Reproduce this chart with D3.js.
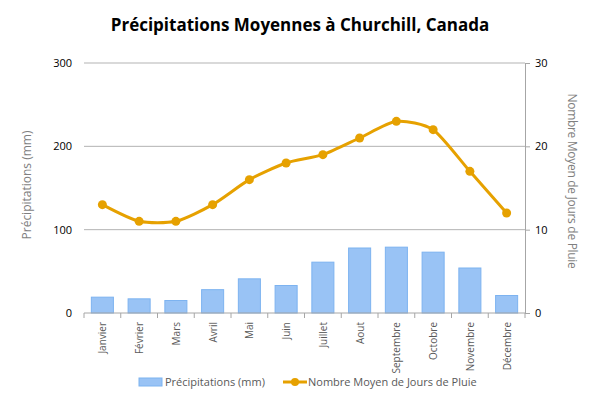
<!DOCTYPE html>
<html>
<head>
<meta charset="utf-8">
<script src="https://cdn.jsdelivr.net/npm/d3@7"></script>
<style>
  body { margin: 0; background: #fff; }
  svg { font-family: "Open Sans", "Noto Sans", sans-serif; }
</style>
</head>
<body>
<div id="chart"></div>
<script>
// Data
const months = ["Janvier", "Février", "Mars", "Avril", "Mai", "Juin",
  "Juillet", "Aout", "Septembre", "Octobre", "Novembre", "Décembre"];
const precip = [19, 17, 15, 28, 41, 33, 61, 78, 79, 73, 54, 21];
const rainDays = [13, 11, 11, 13, 16, 18, 19, 21, 23, 22, 17, 12];
const leftTicks = [0, 100, 200, 300];
const rightTicks = [0, 10, 20, 30];

const margin = { top: 63, right: 75, bottom: 86, left: 84 };
const width = 600 - margin.left - margin.right;
const height = 399 - margin.top - margin.bottom;

const svg = d3.select("#chart")
  .append("svg")
  .attr("width", 600)
  .attr("height", 399);

const g = svg.append("g")
  .attr("transform", `translate(${margin.left},${margin.top})`);

// Scales
const x = d3.scaleBand()
  .domain(months)
  .range([0, width])
  .paddingInner(0.4)
  .paddingOuter(0.2);

const yLeft = d3.scaleLinear().domain([0, 300]).range([height, 0]);
const yRight = d3.scaleLinear().domain([0, 30]).range([height, 0]);

// Title
svg.append("text")
  .attr("x", 300)
  .attr("y", 31)
  .attr("text-anchor", "middle")
  .style("font-size", "17px")
  .style("font-weight", "bold")
  .text("Précipitations Moyennes à Churchill, Canada");

// Gridlines
g.selectAll(".grid")
  .data(leftTicks.filter(d => d > 0))
  .enter()
  .append("line")
  .attr("x1", 0)
  .attr("x2", width)
  .attr("y1", d => yLeft(d))
  .attr("y2", d => yLeft(d))
  .attr("stroke", "#b3b3b3")
  .attr("stroke-width", 1);

// Left axis (no domain line)
const leftAxis = g.append("g")
  .call(d3.axisLeft(yLeft).tickValues(leftTicks).tickSize(0).tickPadding(12));
leftAxis.select(".domain").remove();
leftAxis.selectAll("text")
  .style("font-size", "11px")
  .style("font-family", "Open Sans, sans-serif")
  .attr("fill", "#000");

// Right axis
const rightAxis = g.append("g")
  .attr("transform", `translate(${width},0)`)
  .call(d3.axisRight(yRight).tickValues(rightTicks).tickSize(5).tickSizeOuter(0).tickPadding(5));
rightAxis.select(".domain").attr("stroke", "#a6a6a6");
rightAxis.selectAll(".tick line").attr("stroke", "#a6a6a6");
rightAxis.selectAll("text")
  .style("font-size", "11px")
  .style("font-family", "Open Sans, sans-serif")
  .attr("fill", "#000");

// Bars
g.selectAll(".bar")
  .data(months)
  .enter()
  .append("rect")
  .attr("x", d => x(d))
  .attr("y", (d, i) => yLeft(precip[i]))
  .attr("width", x.bandwidth())
  .attr("height", (d, i) => height - yLeft(precip[i]))
  .attr("fill", "#99c3f5")
  .attr("stroke", "#7db3f0")
  .attr("stroke-width", 1);

// Bottom axis
const step = x.step();
const bottom = g.append("g").attr("transform", `translate(0,${height})`);
bottom.append("line")
  .attr("x1", 0).attr("x2", width)
  .attr("y1", 0).attr("y2", 0)
  .attr("stroke", "#a6a6a6");
d3.range(months.length + 1).forEach(i => {
  bottom.append("line")
    .attr("x1", i * step).attr("x2", i * step)
    .attr("y1", 0).attr("y2", 5)
    .attr("stroke", "#a6a6a6");
});
bottom.selectAll(".xlabel")
  .data(months)
  .enter()
  .append("text")
  .attr("transform", d => `translate(${x(d) + x.bandwidth() / 2 + 4},9) rotate(-90)`)
  .attr("text-anchor", "end")
  .style("font-size", "10px")
  .attr("fill", "#595959")
  .text(d => d);

// Line
const line = d3.line()
  .x((d, i) => x(months[i]) + x.bandwidth() / 2)
  .y(d => yRight(d))
  .curve(d3.curveCardinal.tension(0.3));

g.append("path")
  .datum(rainDays)
  .attr("fill", "none")
  .attr("stroke", "#e6a100")
  .attr("stroke-width", 3)
  .attr("d", line);

g.selectAll(".dot")
  .data(rainDays)
  .enter()
  .append("circle")
  .attr("cx", (d, i) => x(months[i]) + x.bandwidth() / 2)
  .attr("cy", d => yRight(d))
  .attr("r", 4.5)
  .attr("fill", "#e6a100");

// Axis titles
svg.append("text")
  .attr("transform", `translate(31,${margin.top + height / 2 - 3}) rotate(-90)`)
  .attr("text-anchor", "middle")
  .style("font-size", "12px")
  .attr("fill", "#7f7f7f")
  .text("Précipitations (mm)");

svg.append("text")
  .attr("transform", `translate(568,${margin.top + height / 2 - 7}) rotate(90)`)
  .attr("text-anchor", "middle")
  .style("font-size", "12px")
  .style("letter-spacing", "-0.3px")
  .attr("fill", "#7f7f7f")
  .text("Nombre Moyen de Jours de Pluie");

// Legend
const legend = svg.append("g").attr("transform", "translate(139,378)");
legend.append("rect")
  .attr("x", 0).attr("y", 0)
  .attr("width", 23).attr("height", 8)
  .attr("fill", "#99c3f5")
  .attr("stroke", "#7db3f0");
legend.append("text")
  .attr("x", 26).attr("y", 8)
  .style("font-size", "11px")
  .attr("fill", "#595959")
  .text("Précipitations (mm)");

legend.append("line")
  .attr("x1", 144).attr("x2", 168)
  .attr("y1", 4).attr("y2", 4)
  .attr("stroke", "#e6a100")
  .attr("stroke-width", 3);
legend.append("circle")
  .attr("cx", 156).attr("cy", 4).attr("r", 4)
  .attr("fill", "#e6a100");
legend.append("text")
  .attr("x", 169).attr("y", 8)
  .style("font-size", "11px")
  .attr("fill", "#595959")
  .text("Nombre Moyen de Jours de Pluie");
</script>
</body>
</html>
